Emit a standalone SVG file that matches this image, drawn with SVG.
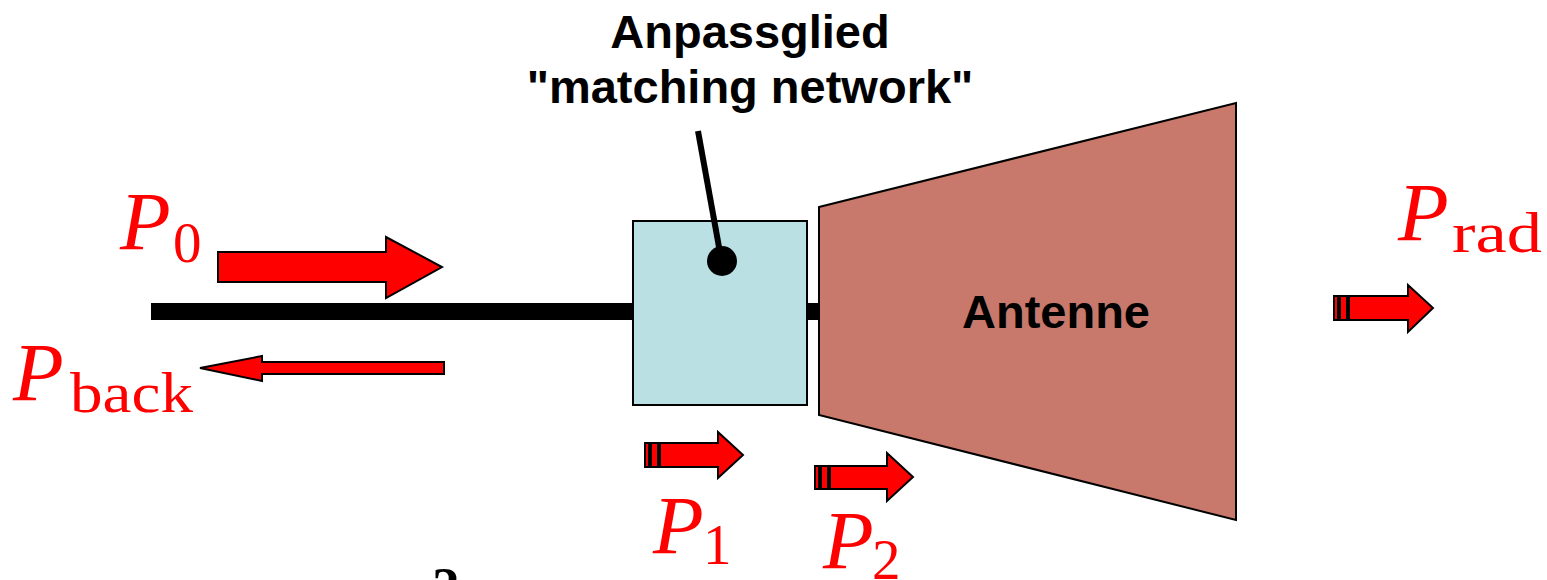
<svg xmlns="http://www.w3.org/2000/svg" width="1547" height="580" viewBox="0 0 1547 580">
  <style>
    .lbl { font-family: "Liberation Sans", Arial, sans-serif; font-weight: bold; font-size: 47px; fill: #000; text-anchor: middle; }
    .mP { font-family: "Liberation Serif", "Times New Roman", serif; font-style: italic; font-size: 83px; fill: #FF0000; }
    .mSub { font-family: "Liberation Serif", "Times New Roman", serif; font-size: 57px; fill: #FF0000; }
    .arr { fill: #FF0000; stroke: #000; stroke-width: 2; stroke-linejoin: miter; }
  </style>
  <rect width="1547" height="580" fill="#FFFFFF"/>

  <g id="matching-network">
    <rect x="633" y="221" width="174" height="184" fill="#BBE0E3" stroke="#000" stroke-width="2"/>
  </g>

  <g id="antenna">
    <polygon points="819,207 1236,103 1236,520 819,415" fill="#C8796B" stroke="#000" stroke-width="2"/>
    <text class="lbl" x="1056" y="328">Antenne</text>
  </g>

  <g id="connectors">
    <rect x="151" y="303" width="482" height="17" fill="#000"/>
    <rect x="807" y="303" width="12" height="17" fill="#000"/>
    <line x1="698" y1="131" x2="721" y2="258" stroke="#000" stroke-width="6"/>
    <circle cx="722" cy="261" r="15" fill="#000"/>
  </g>

  <g id="title">
    <text class="lbl" x="750" y="48">Anpassglied</text>
    <text class="lbl" x="750" y="103">"matching network"</text>
  </g>

  <g id="arrow-p0">
    <polygon class="arr" points="218,252 386,252 386,237 442,267 386,298 386,282 218,282"/>
    <text class="mP" x="120" y="249">P</text>
    <text class="mSub" x="173" y="262">0</text>
  </g>

  <g id="arrow-pback">
    <polygon class="arr" points="444,362 262,362 262,356 200,368 262,381 262,374 444,374"/>
    <text class="mP" x="13" y="400">P</text>
    <text class="mSub" x="70" y="412" textLength="123" lengthAdjust="spacingAndGlyphs">back</text>
  </g>

  <g id="arrow-p1">
    <rect class="arr" x="645" y="443" width="4" height="24"/>
    <rect class="arr" x="651" y="443" width="7" height="24"/>
    <polygon class="arr" points="660,443 718,443 718,432 743,455 718,478 718,467 660,467"/>
    <text class="mP" x="653" y="553">P</text>
    <text class="mSub" x="703" y="564">1</text>
  </g>

  <g id="arrow-p2">
    <rect class="arr" x="815" y="466" width="4" height="23"/>
    <rect class="arr" x="821" y="466" width="7" height="23"/>
    <polygon class="arr" points="830,466 887,466 887,453 913,477 887,501 887,489 830,489"/>
    <text class="mP" x="823" y="568">P</text>
    <text class="mSub" x="872" y="579">2</text>
  </g>

  <g id="arrow-prad">
    <rect class="arr" x="1334" y="296" width="4" height="24"/>
    <rect class="arr" x="1340" y="296" width="7" height="24"/>
    <polygon class="arr" points="1349,296 1408,296 1408,285 1433,308 1408,332 1408,320 1349,320"/>
    <text class="mP" x="1398" y="240">P</text>
    <text class="mSub" x="1452" y="252" textLength="90" lengthAdjust="spacingAndGlyphs">rad</text>
  </g>

  <text x="432" y="605" font-family="Liberation Serif, serif" font-weight="bold" font-size="55" fill="#000">2</text>
</svg>
